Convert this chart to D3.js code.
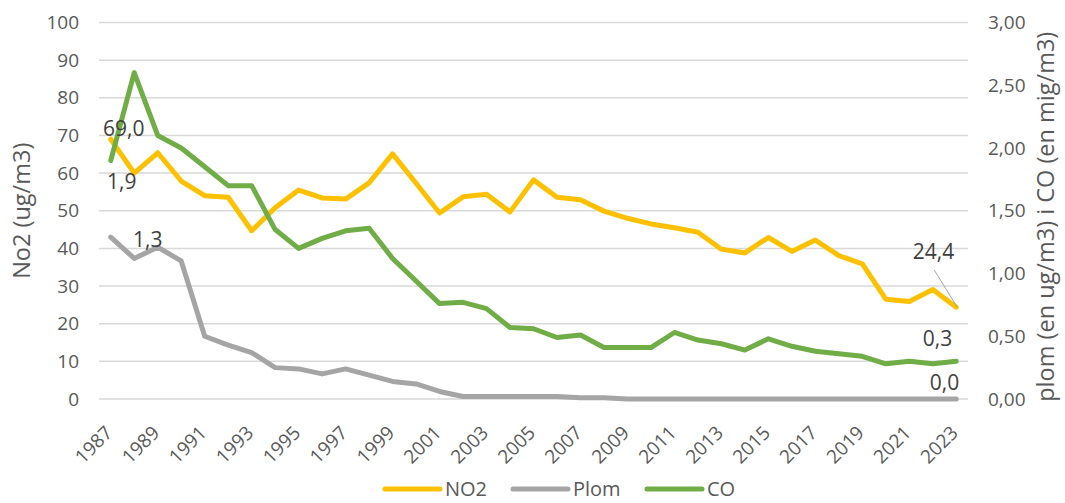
<!DOCTYPE html>
<html>
<head>
<meta charset="utf-8">
<script src="https://d3js.org/d3.v7.min.js"></script>
<style>
  body { margin: 0; background: #fff; }
  text { font-family: "Open Sans", sans-serif; }
</style>
</head>
<body>
<div id="chart"></div>
<script>
  // years on the category axis
  const years = d3.range(1987, 2024);

  // NO2 in ug/m3 (left axis)
  const no2 = [69.0, 60.0, 65.4, 57.9, 54.0, 53.6, 44.7, 50.8, 55.5, 53.4, 53.1, 57.4, 65.1,
    57.3, 49.4, 53.7, 54.4, 49.7, 58.2, 53.6, 52.9, 49.9, 48.0, 46.5, 45.5, 44.3, 39.8,
    38.8, 42.9, 39.2, 42.2, 38.1, 35.9, 26.5, 25.9, 29.1, 24.4];

  // lead (plom) in ug/m3 (right axis)
  const plom = [1.29, 1.12, 1.21, 1.10, 0.50, 0.43, 0.37, 0.25, 0.24, 0.20, 0.24, 0.19, 0.14,
    0.12, 0.06, 0.02, 0.02, 0.02, 0.02, 0.02, 0.01, 0.01, 0.0, 0.0, 0.0, 0.0, 0.0,
    0.0, 0.0, 0.0, 0.0, 0.0, 0.0, 0.0, 0.0, 0.0, 0.0];

  // CO in mg/m3 (right axis)
  const co = [1.90, 2.60, 2.10, 2.00, 1.85, 1.70, 1.70, 1.35, 1.20, 1.28, 1.34, 1.36, 1.12,
    0.94, 0.76, 0.77, 0.72, 0.57, 0.56, 0.49, 0.51, 0.41, 0.41, 0.41, 0.53, 0.47, 0.44,
    0.39, 0.48, 0.42, 0.38, 0.36, 0.34, 0.28, 0.30, 0.28, 0.30];

  const leftTicks = d3.range(0, 101, 10);
  const rightTicks = [0, 0.5, 1, 1.5, 2, 2.5, 3];
  const xTickYears = years.filter((y, i) => i % 2 === 0);

  const width = 1065, height = 503;
  const margin = { left: 99, right: 97, top: 22.5, bottom: 104 };

  const svg = d3.select("#chart").append("svg")
    .attr("width", width)
    .attr("height", height);

  const x = d3.scaleBand()
    .domain(years)
    .range([margin.left, width - margin.right]);
  const xc = d => x(d) + x.bandwidth() / 2;

  const yL = d3.scaleLinear().domain([0, 100]).range([height - margin.bottom, margin.top]);
  const yR = d3.scaleLinear().domain([0, 3]).range([height - margin.bottom, margin.top]);

  const fmt2 = d => d.toFixed(2).replace(".", ",");
  const fmt1 = d => d.toFixed(1).replace(".", ",");

  // gridlines
  svg.append("g")
    .selectAll("line")
    .data(leftTicks)
    .enter().append("line")
    .attr("x1", margin.left)
    .attr("x2", width - margin.right)
    .attr("y1", d => yL(d))
    .attr("y2", d => yL(d))
    .attr("stroke", "#d9d9d9")
    .attr("stroke-width", 1.5);

  // left axis
  const gl = svg.append("g")
    .attr("transform", `translate(${margin.left},0)`)
    .call(d3.axisLeft(yL).tickValues(leftTicks).tickSize(0).tickPadding(20));
  gl.select(".domain").remove();
  gl.selectAll("text").attr("font-size", 19).attr("fill", "#595959")
    .attr("font-family", "Open Sans, sans-serif");

  // right axis
  const gr = svg.append("g")
    .attr("transform", `translate(${width - margin.right},0)`)
    .call(d3.axisRight(yR).tickValues(rightTicks).tickSize(0).tickPadding(20).tickFormat(fmt2));
  gr.select(".domain").remove();
  gr.selectAll("text").attr("font-size", 19).attr("fill", "#595959")
    .attr("font-family", "Open Sans, sans-serif");

  // x axis
  const gx = svg.append("g")
    .attr("transform", `translate(0,${height - margin.bottom})`)
    .call(d3.axisBottom(x).tickValues(xTickYears).tickSize(0).tickPadding(0));
  gx.select(".domain").remove();
  gx.selectAll("text")
    .attr("font-size", 19)
    .attr("fill", "#595959")
    .attr("font-family", "Open Sans, sans-serif")
    .attr("text-anchor", "end")
    .attr("dy", 0)
    .attr("transform", "translate(3,35) rotate(-45)");

  // axis titles
  svg.append("text")
    .attr("transform", `translate(30,${(yL(0) + yL(100)) / 2}) rotate(-90)`)
    .attr("text-anchor", "middle")
    .attr("font-size", 23.5)
    .attr("fill", "#595959")
    .text("No2 (ug/m3)");

  svg.append("text")
    .attr("transform", `translate(1054,${(yR(0) + yR(3)) / 2 + 6}) rotate(-90)`)
    .attr("text-anchor", "middle")
    .attr("font-size", 23.5)
    .attr("fill", "#595959")
    .text("plom (en ug/m3) i CO (en mig/m3)");

  // lines
  const series = [
    { name: "NO2", values: no2, y: yL, color: "#ffc000" },
    { name: "Plom", values: plom, y: yR, color: "#a5a5a5" },
    { name: "CO", values: co, y: yR, color: "#70ad47" }
  ];

  const lines = svg.append("g");
  series.forEach(s => {
    lines.append("path")
      .datum(s.values)
      .attr("fill", "none")
      .attr("stroke", s.color)
      .attr("stroke-width", 5)
      .attr("stroke-linejoin", "round")
      .attr("stroke-linecap", "round")
      .attr("d", d3.line()
        .x((d, i) => xc(years[i]))
        .y(d => s.y(d)));
  });

  // data labels
  const last = years.length - 1;
  const labels = [
    { t: fmt1(no2[0]), x: xc(years[0]) + 13, y: yL(no2[0]) - 3, anchor: "middle" },
    { t: fmt1(co[0]), x: xc(years[0]) + 11, y: yR(co[0]) + 28, anchor: "middle" },
    { t: fmt1(plom[0]), x: xc(years[0]) + 37, y: yR(plom[0]) + 10, anchor: "middle" },
    { t: fmt1(no2[last]), x: xc(years[last]) - 2, y: yL(no2[last]) - 48, anchor: "end" },
    { t: fmt1(co[last]), x: xc(years[last]) - 4, y: yR(co[last]) - 15, anchor: "end" },
    { t: fmt1(plom[last]), x: xc(years[last]) + 3, y: yR(plom[last]) - 9, anchor: "end" }
  ];

  // leader line for the last NO2 label
  svg.append("line")
    .attr("x1", xc(years[last]) - 22)
    .attr("y1", yL(no2[last]) - 37)
    .attr("x2", xc(years[last]) + 1)
    .attr("y2", yL(no2[last]))
    .attr("stroke", "#a5a5a5")
    .attr("stroke-width", 1);

  svg.append("g")
    .selectAll("text")
    .data(labels)
    .enter().append("text")
    .attr("x", d => d.x)
    .attr("y", d => d.y)
    .attr("text-anchor", d => d.anchor)
    .attr("font-size", 21)
    .attr("fill", "#404040")
    .text(d => d.t);

  // legend
  const legendX = [385, 513, 647];
  const legend = svg.append("g").attr("transform", "translate(0,489)");
  series.forEach((s, i) => {
    legend.append("line")
      .attr("x1", legendX[i])
      .attr("x2", legendX[i] + 55)
      .attr("stroke", s.color)
      .attr("stroke-width", 5)
      .attr("stroke-linecap", "round");
    legend.append("text")
      .attr("x", legendX[i] + 60)
      .attr("y", 7)
      .attr("font-size", 20)
      .attr("fill", "#595959")
      .text(s.name);
  });
</script>
</body>
</html>
